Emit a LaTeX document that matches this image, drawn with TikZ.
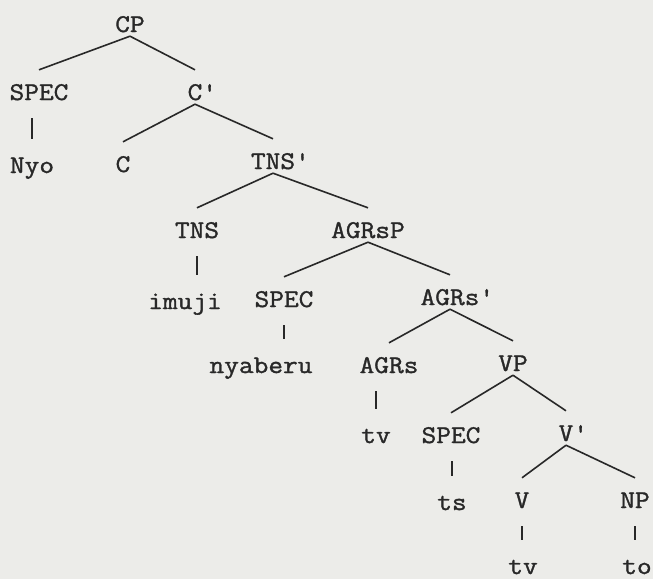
\documentclass[tikz,border=0pt]{standalone}
\usepackage{fontspec}
\setmonofont[FakeStretch=1.12,FakeBold=1.3]{Latin Modern Mono}
\usetikzlibrary{calc}
\definecolor{paper}{RGB}{236,236,233}
\definecolor{ink}{RGB}{40,40,40}
\tikzset{
  cat/.style={anchor=base,inner sep=0pt,text height=30pt,text depth=4pt,
    font=\ttfamily\fontsize{25.5}{30}\selectfont,text=ink},
  branch/.style={draw=ink,line width=1.6pt},
  stem/.style={branch,shorten <=14pt,shorten >=4pt}
}
\newcommand{\primed}[1]{#1\rlap{'}}
\begin{document}
\begin{tikzpicture}[x=1pt,y=-1pt]
\fill[paper] (0,0) rectangle (653,579);
\useasboundingbox (0,0) rectangle (653,579);
% categories and words, row by row
\node[cat] (CP) at (130,32) {CP};
\node[cat] (SPECa) at (39,100) {SPEC};
\node[cat] (Cbar) at (195,100) {\primed{C}};
\node[cat] (Nyo) at (32,173) {Nyo};
\node[cat] (C) at (123,172) {C};
\node[cat] (TNSbar) at (273,169) {\primed{TNS}};
\node[cat] (TNS) at (197,238) {TNS};
\node[cat] (AGRsP) at (368,238) {AGRsP};
\node[cat] (imuji) at (185,309) {imuji};
\node[cat] (SPECb) at (284,307) {SPEC};
\node[cat] (AGRsbar) at (450,305) {\primed{AGRs}};
\node[cat] (nyaberu) at (261,373) {nyaberu};
\node[cat] (AGRs) at (389,373) {AGRs};
\node[cat] (VP) at (513,371) {VP};
\node[cat] (tva) at (376,443) {tv};
\node[cat] (SPECc) at (451,443) {SPEC};
\node[cat] (Vbar) at (566,441) {\primed{V}};
\node[cat] (ts) at (452,510) {ts};
\node[cat] (V) at (522,508) {V};
\node[cat] (NP) at (635,508) {NP};
\node[cat] (tvb) at (523,574) {tv};
\node[cat] (to) at (637,574) {to};
% branches
\draw[branch] (CP.south) -- (SPECa.north);
\draw[branch] (CP.south) -- (Cbar.north);
\draw[branch] (Cbar.south) -- (C.north);
\draw[branch] (Cbar.south) -- (TNSbar.north);
\draw[branch] (TNSbar.south) -- (TNS.north);
\draw[branch] (TNSbar.south) -- (AGRsP.north);
\draw[branch] (AGRsP.south) -- (SPECb.north);
\draw[branch] (AGRsP.south) -- (AGRsbar.north);
\draw[branch] (AGRsbar.south) -- (AGRs.north);
\draw[branch] (AGRsbar.south) -- (VP.north);
\draw[branch] (VP.south) -- (SPECc.north);
\draw[branch] (VP.south) -- (Vbar.north);
\draw[branch] (Vbar.south) -- (V.north);
\draw[branch] (Vbar.south) -- (NP.north);
% unary stems
\draw[stem] (SPECa.south -| Nyo.north) -- (Nyo.north);
\draw[stem] (TNS.south) -- (TNS.south |- imuji.north);
\draw[stem] (SPECb.south) -- (SPECb.south |- nyaberu.north);
\draw[stem] (AGRs.south -| tva.north) -- (tva.north);
\draw[stem] (SPECc.south -| ts.north) -- (ts.north);
\draw[stem] (V.south) -- (V.south |- tvb.north);
\draw[stem] (NP.south) -- (NP.south |- to.north);
\end{tikzpicture}
\end{document}
